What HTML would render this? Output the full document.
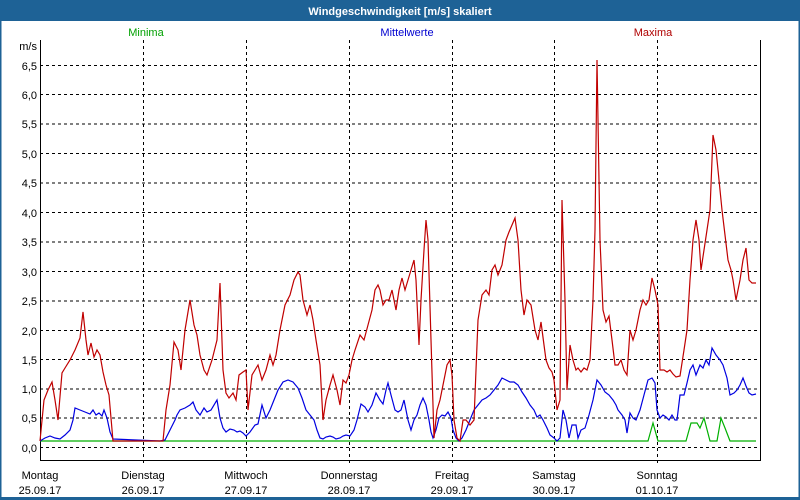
<!DOCTYPE html>
<html><head><meta charset="utf-8"><style>
body{margin:0;background:#fff}
svg{display:block;font-family:"Liberation Sans",Tahoma,sans-serif}
</style></head><body>
<svg width="800" height="500" viewBox="0 0 800 500" xmlns="http://www.w3.org/2000/svg">
<rect x="0" y="0" width="800" height="500" fill="#fff"/>
<rect x="0" y="0" width="800" height="21" fill="#1e6296"/>
<rect x="0" y="0" width="1.5" height="500" fill="#1e6296"/>
<rect x="798.5" y="0" width="1.5" height="500" fill="#1e6296"/>
<rect x="0" y="497" width="800" height="3" fill="#1e6296"/>
<text x="400" y="15" fill="#fff" font-size="11" font-weight="bold" text-anchor="middle">Windgeschwindigkeit [m/s] skaliert</text>
<g font-size="11" text-anchor="middle">
<text x="146" y="36" fill="#00a000">Minima</text>
<text x="407" y="36" fill="#0000d0">Mittelwerte</text>
<text x="653" y="36" fill="#b00000">Maxima</text>
</g>
<g stroke="#000" stroke-width="1" stroke-dasharray="3,3" fill="none">
<path d="M40 65.5H760M40 94.5H760M40 124H760M40 153.5H760M40 183H760M40 212.5H760M40 242H760M40 271.5H760M40 301H760M40 330.5H760M40 359.5H760M40 389H760M40 418H760M40 447.5H760"/>
<path d="M143.5 40V463M246.5 40V463M349.5 40V463M452.5 40V463M554.5 40V463M657.5 40V463"/>
</g>
<path d="M40.5 40V460.5H760.5V40" stroke="#000" stroke-width="1" fill="none"/>
<g font-size="11" text-anchor="end" fill="#000">
<text x="37" y="50">m/s</text>
<text x="37" y="70">6,5</text><text x="37" y="99">6,0</text><text x="37" y="128">5,5</text>
<text x="37" y="158">5,0</text><text x="37" y="187">4,5</text><text x="37" y="217">4,0</text>
<text x="37" y="246">3,5</text><text x="37" y="276">3,0</text><text x="37" y="305">2,5</text>
<text x="37" y="335">2,0</text><text x="37" y="364">1,5</text><text x="37" y="393">1,0</text>
<text x="37" y="422">0,5</text><text x="37" y="452">0,0</text>
</g>
<g font-size="11" text-anchor="middle" fill="#000">
<text x="40" y="479">Montag</text><text x="40" y="494">25.09.17</text>
<text x="143" y="479">Dienstag</text><text x="143" y="494">26.09.17</text>
<text x="246" y="479">Mittwoch</text><text x="246" y="494">27.09.17</text>
<text x="349" y="479">Donnerstag</text><text x="349" y="494">28.09.17</text>
<text x="452" y="479">Freitag</text><text x="452" y="494">29.09.17</text>
<text x="554" y="479">Samstag</text><text x="554" y="494">30.09.17</text>
<text x="657" y="479">Sonntag</text><text x="657" y="494">01.10.17</text>
</g>
<polyline fill="none" stroke="#00b000" stroke-width="1.2" points="40,441 648,441 653,423 658,441 686,441 691,423 697,423 700,428 704,418 710,441 717,441 721,418 725,428 730,441 756,441"/>
<polyline fill="none" stroke="#0000e0" stroke-width="1.2" points="40,441 45,438 50,436 55,438 60,439 65,435 70,430 73,420 75,408 80,410 85,412 90,414 93,410 96,415 99,413 102,416 104,410 107,418 110,432 113,439 160,441 165,440 170,430 175,420 177,415 180,410 185,408 190,405 193,402 196,410 200,415 204,408 207,412 211,410 217,400 220,418 223,428 226,432 230,429 234,430 237,432 240,431 243,433 246,436 250,432 255,425 258,424 262,405 266,418 270,410 274,400 278,390 283,382 288,380 293,382 298,388 302,398 306,410 310,415 314,420 317,430 320,438 323,439 326,437 330,436 333,437 336,439 340,438 343,436 346,435 350,436 354,430 357,420 361,404 365,407 368,412 372,405 376,393 380,400 383,404 386,390 388,383 391,395 395,410 398,412 401,410 404,400 408,420 411,430 414,420 417,415 420,405 423,398 426,405 429,420 431,432 433,438 436,430 439,418 442,415 445,416 448,412 451,418 453,430 456,438 459,441 462,438 466,430 470,420 474,410 478,405 482,400 486,398 490,395 494,390 498,385 502,378 506,380 510,382 514,382 518,385 522,392 526,398 530,405 534,410 537,417 540,415 543,420 547,428 550,435 554,438 557,441 560,438 563,410 566,420 569,438 572,425 576,425 578,438 581,430 585,428 589,415 593,400 597,380 601,385 605,392 609,395 613,400 616,405 618,410 622,415 625,420 627,433 630,413 633,418 636,420 640,410 644,395 648,380 652,378 655,383 657,410 660,418 663,415 666,417 669,420 672,415 675,420 677,420 680,395 684,395 687,383 690,370 693,365 696,375 700,365 703,368 706,360 709,365 712,348 716,355 720,360 723,365 727,378 730,395 734,393 737,390 740,385 743,378 746,386 749,393 752,395 756,394"/>
<polyline fill="none" stroke="#c00000" stroke-width="1.2" points="40,441 44,400 48,390 52,382 55,400 58,420 62,373 65,368 70,360 75,350 80,338 83,312 86,340 88,355 91,343 94,357 97,350 100,355 103,372 106,385 109,395 113,441 160,441 163,441 166,410 170,385 174,342 178,350 181,370 185,330 190,300 194,325 197,335 200,355 204,370 207,375 212,360 217,340 220,283 223,370 226,393 229,398 233,393 236,400 239,375 243,372 246,370 248,410 252,375 255,370 258,365 262,380 266,370 270,355 273,365 276,355 280,330 285,305 290,295 294,280 298,272 300,275 303,300 307,315 310,305 313,320 316,340 320,365 323,420 326,400 330,385 333,375 337,390 340,405 343,380 346,383 349,375 352,360 355,350 360,335 364,340 368,325 372,310 375,290 378,285 380,290 383,305 386,300 389,300 392,290 396,310 399,290 402,278 405,290 408,280 411,270 414,260 416,280 419,345 421,300 424,250 426,220 428,240 431,340 434,438 437,410 440,400 444,380 447,365 450,360 452,375 454,420 457,438 460,441 463,420 466,420 470,425 474,420 478,320 482,295 486,290 489,295 492,270 495,265 498,275 502,265 506,240 509,232 512,225 515,218 518,240 521,290 524,315 527,300 531,305 535,330 538,340 541,322 544,345 546,360 549,368 552,372 554,380 557,410 560,400 562,200 565,300 567,390 570,345 573,360 576,370 578,368 581,372 584,368 587,370 590,360 593,300 595,230 597,60 600,240 603,310 606,322 609,316 612,340 615,365 618,365 621,360 624,370 627,375 630,330 633,340 636,330 640,310 643,300 646,305 649,300 652,278 655,290 658,305 660,370 664,370 667,372 670,370 673,374 676,377 680,376 684,350 687,330 690,280 693,240 696,220 699,240 701,270 704,250 707,230 710,210 713,135 716,150 719,180 722,210 725,235 728,260 731,270 733,280 736,300 740,280 743,260 746,248 749,280 752,283 756,283"/>
</svg>
</body></html>
